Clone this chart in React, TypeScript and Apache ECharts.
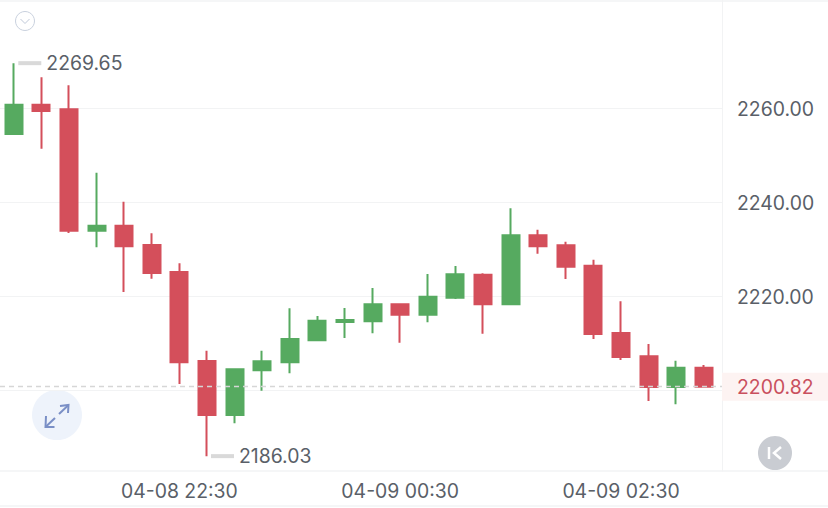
import React, { useEffect, useRef } from "react";
import * as echarts from "echarts";

const times = [
  "04-08 21:00","04-08 21:15","04-08 21:30","04-08 21:45","04-08 22:00","04-08 22:15","04-08 22:30","04-08 22:45",
  "04-08 23:00","04-08 23:15","04-08 23:30","04-08 23:45","04-09 00:00","04-09 00:15","04-09 00:30","04-09 00:45",
  "04-09 01:00","04-09 01:15","04-09 01:30","04-09 01:45","04-09 02:00","04-09 02:15","04-09 02:30","04-09 02:45",
  "04-09 03:00","04-09 03:15",
];
// open, close, low, high
const ohlc = [
  [2254.57,2260.81,2254.36,2269.65],[2260.81,2259.47,2251.45,2266.64],[2259.83,2234.0,2233.51,2264.94],
  [2234.0,2235.06,2230.47,2246.34],[2235.06,2230.68,2220.96,2240.17],[2230.96,2225.0,2223.79,2233.45],
  [2225.21,2206.0,2201.38,2227.06],[2206.28,2194.79,2186.03,2208.47],[2194.79,2204.51,2193.02,2204.51],
  [2204.3,2206.21,2199.96,2208.47],[2206.0,2210.96,2203.66,2217.49],[2210.68,2214.85,2210.68,2215.85],
  [2214.57,2215.0,2211.17,2217.55],[2214.72,2218.34,2212.17,2221.81],[2218.34,2216.13,2210.17,2218.51],
  [2216.13,2219.96,2214.51,2224.79],[2219.74,2224.72,2219.47,2226.49],[2224.64,2218.34,2212.09,2224.94],
  [2218.34,2233.02,2218.34,2238.77],[2233.02,2230.68,2229.11,2234.21],[2230.89,2226.34,2223.72,2231.66],
  [2226.55,2212.02,2210.96,2227.83],[2212.23,2207.13,2206.49,2218.98],[2207.28,2200.74,2197.77,2209.89],
  [2200.74,2204.85,2197.06,2206.34],[2204.85,2200.82,2200.82,2205.43],
];
const gridTicks = [2200, 2220, 2240, 2260];
const labelTicks = [2220, 2240, 2260];
const lastPrice = 2200.82;
const highPoint = { time: "04-08 21:00", value: 2269.65 };
const lowPoint = { time: "04-08 22:45", value: 2186.03 };
const yMin = 2182.87;
const yMax = 2283.09;

const FONT = "Inter";
const FONT_SIZE = 19.4;
const TXT = "#5a5f68";
const RED = "#d44f5b";
const GREEN = "#56aa60";
const LINE = "#f2f3f4";

export default function App() {
  const ref = useRef<HTMLDivElement>(null);
  useEffect(() => {
    const chart = echarts.init(ref.current!, undefined, { renderer: "svg" });
    const extremeLabel = {
      show: true, position: "right", distance: 5, color: TXT, fontFamily: FONT, fontSize: FONT_SIZE,
      formatter: (p: any) => p.value.toFixed(2),
    };
    chart.setOption({
      animation: false,
      backgroundColor: "#ffffff",
      grid: [
        { left: 0, width: 717.6, top: 0, height: 471 },
        { left: 0, width: 722, top: 0, height: 471 },
      ],
      xAxis: [
        {
          type: "category", gridIndex: 0, data: times, boundaryGap: true,
          axisLine: { show: false }, axisTick: { show: false }, splitLine: { show: false },
          axisLabel: {
            interval: (i: number) => (i - 6) % 8 === 0, margin: 10, hideOverlap: false,
            color: TXT, fontFamily: FONT, fontSize: FONT_SIZE,
          },
        },
        { type: "category", gridIndex: 1, data: times, show: false },
      ],
      yAxis: [
        { type: "value", gridIndex: 0, min: yMin, max: yMax, show: false, splitLine: { show: false } },
        {
          type: "value", gridIndex: 1, min: yMin, max: yMax, position: "right",
          axisLine: { show: true, lineStyle: { color: LINE, width: 1 } },
          axisTick: { show: false, customValues: gridTicks },
          splitLine: { show: true, lineStyle: { color: LINE, width: 1 } },
          axisLabel: {
            customValues: labelTicks, margin: 15, color: TXT, fontFamily: FONT, fontSize: FONT_SIZE,
            formatter: (v: number) => v.toFixed(2),
          },
        },
      ],
      series: [
        {
          type: "line", xAxisIndex: 1, yAxisIndex: 1, data: [], silent: true, symbol: "none",
          markLine: {
            silent: true, symbol: "none", animation: false,
            lineStyle: { color: "#d6d6d6", type: [5, 4], width: 1.4 },
            label: {
              show: true, position: "end", distance: 0, color: "#c9505e", fontFamily: FONT, fontSize: FONT_SIZE,
              backgroundColor: "#fdf3f2", padding: [5, 16, 4, 15],
              formatter: (p: any) => p.value.toFixed(2),
            },
            data: [{ yAxis: lastPrice }],
          },
        },
        {
          type: "candlestick", xAxisIndex: 0, yAxisIndex: 0, barWidth: 17.5, data: ohlc,
          itemStyle: { color: GREEN, color0: RED, borderColor: GREEN, borderColor0: RED, borderWidth: 2 },
          markPoint: {
            silent: true, animation: false,
            itemStyle: { color: "#d9d9d9" },
            data: [
              { coord: [highPoint.time, highPoint.value], value: highPoint.value, symbol: "rect", symbolSize: [23, 4], symbolOffset: [16, 0], label: extremeLabel },
              { coord: [lowPoint.time, lowPoint.value], value: lowPoint.value, symbol: "rect", symbolSize: [23, 4], symbolOffset: [15.5, 0], label: extremeLabel },
            ],
          },
        },
      ],
      graphic: [
        { type: "line", silent: true, shape: { x1: 0, y1: 1, x2: 828, y2: 1 }, style: { stroke: LINE, lineWidth: 1.5 } },
        { type: "line", silent: true, shape: { x1: 0, y1: 471, x2: 828, y2: 471 }, style: { stroke: LINE, lineWidth: 1.5 } },
        { type: "line", silent: true, shape: { x1: 0, y1: 506, x2: 828, y2: 506 }, style: { stroke: LINE, lineWidth: 1.5 } },
        { type: "circle", silent: true, shape: { cx: 25, cy: 21, r: 9.5 }, style: { fill: "#fff", stroke: "#c9d1de", lineWidth: 1 } },
        { type: "polyline", silent: true, shape: { points: [[20.5, 19], [25, 23.5], [29.5, 19]] }, style: { fill: "none", stroke: "#c0c9d9", lineWidth: 1 } },
        { type: "circle", silent: true, shape: { cx: 57, cy: 415, r: 25 }, style: { fill: "#eef3fb" } },
        { type: "polyline", silent: true, shape: { points: [[60, 406], [68.5, 405], [68, 413]] }, style: { fill: "none", stroke: "#7a8fc6", lineWidth: 2 } },
        { type: "line", silent: true, shape: { x1: 68, y1: 405.5, x2: 59, y2: 414 }, style: { stroke: "#7a8fc6", lineWidth: 2 } },
        { type: "polyline", silent: true, shape: { points: [[46, 416], [45.5, 427], [54.5, 427]] }, style: { fill: "none", stroke: "#7a8fc6", lineWidth: 2 } },
        { type: "line", silent: true, shape: { x1: 46, y1: 426.5, x2: 55, y2: 418 }, style: { stroke: "#7a8fc6", lineWidth: 2 } },
        { type: "circle", silent: true, shape: { cx: 775, cy: 453, r: 17 }, style: { fill: "#c9ccd2" } },
        { type: "line", silent: true, shape: { x1: 769, y1: 447, x2: 769, y2: 459 }, style: { stroke: "#fff", lineWidth: 2.5 } },
        { type: "polyline", silent: true, shape: { points: [[781, 447], [774, 453], [781, 459]] }, style: { fill: "none", stroke: "#fff", lineWidth: 2.5 } },
      ],
    });
    return () => chart.dispose();
  }, []);
  return <div ref={ref} style={{ position: "fixed", left: 0, top: 0, width: 828, height: 508 }} />;
}
